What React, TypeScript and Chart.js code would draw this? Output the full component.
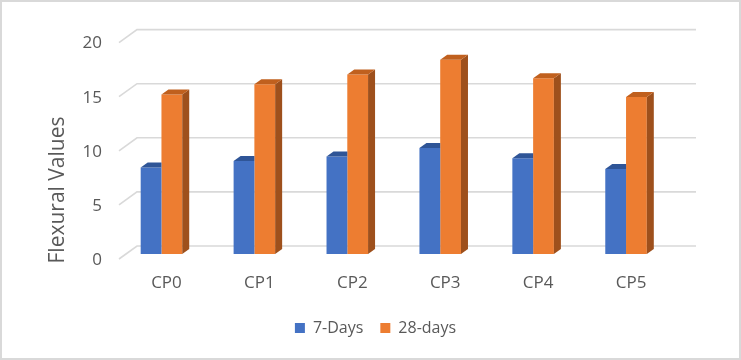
import React, { useEffect, useRef } from "react";
import { Chart, registerables } from "chart.js";

Chart.register(...registerables);

// ---- data ----
const categories = ["CP0", "CP1", "CP2", "CP3", "CP4", "CP5"];
const sevenDays = [8.0, 8.6, 9.0, 9.8, 8.85, 7.85];
const twentyEightDays = [14.75, 15.7, 16.6, 17.95, 16.25, 14.5];
const seriesNames = ["7-Days", "28-days"];
const yTickValues = [0, 5, 10, 15, 20];
const yAxisTitle = "Flexural Values";

// ---- styles ----
const FONT = "'Open Sans', 'Noto Sans', sans-serif";
const TEXT = "#595959";
const GRID = "#d9d9d9";
const FRONT = ["#4472C4", "#ED7D31"];
const TOP = ["#2F5597", "#C0601E"];
const SIDE = ["#2F5597", "#9E501C"];
const DEPTH_X = 7;
const DEPTH_Y = 5;

const threeDPlugin = {
  id: "threeD",
  beforeDraw(chart: any) {
    const { ctx, width, height } = chart;
    ctx.save();
    ctx.fillStyle = "#ffffff";
    ctx.fillRect(0, 0, width, height);
    ctx.strokeStyle = GRID;
    ctx.lineWidth = 2;
    ctx.strokeRect(1, 1, width - 2, height - 2);
    ctx.restore();
  },
  beforeDatasetsDraw(chart: any) {
    const { ctx, chartArea, scales } = chart;
    const y = scales.y;
    ctx.save();
    ctx.strokeStyle = GRID;
    ctx.lineWidth = 1.6;
    y.ticks.forEach((t: any) => {
      const py = y.getPixelForValue(t.value);
      ctx.beginPath();
      ctx.moveTo(chartArea.left + 4, py + 5);
      ctx.lineTo(chartArea.left + 22, py - 8);
      ctx.lineTo(chartArea.right + 23.5, py - 8);
      ctx.stroke();
    });
    ctx.restore();
  },
  afterDatasetsDraw(chart: any) {
    const ctx = chart.ctx;
    const n = chart.data.datasets.length;
    ctx.save();
    for (let d = 0; d < n; d++) {
      const meta = chart.getDatasetMeta(d);
      const last = d === n - 1;
      meta.data.forEach((bar: any) => {
        const { x, y, base, width } = bar.getProps(["x", "y", "base", "width"], true);
        const L = x - width / 2;
        const R = x + width / 2;
        if (last) {
          // side face
          ctx.fillStyle = SIDE[d];
          ctx.beginPath();
          ctx.moveTo(R, y);
          ctx.lineTo(R + DEPTH_X, y - DEPTH_Y);
          ctx.lineTo(R + DEPTH_X, base - DEPTH_Y);
          ctx.lineTo(R, base);
          ctx.closePath();
          ctx.fill();
          // top face
          ctx.fillStyle = TOP[d];
          ctx.beginPath();
          ctx.moveTo(L, y);
          ctx.lineTo(L + DEPTH_X, y - DEPTH_Y);
          ctx.lineTo(R + DEPTH_X, y - DEPTH_Y);
          ctx.lineTo(R, y);
          ctx.closePath();
          ctx.fill();
        } else {
          // top face, hidden on the right by the next (taller) bar
          ctx.fillStyle = TOP[d];
          ctx.beginPath();
          ctx.moveTo(L, y);
          ctx.lineTo(L + DEPTH_X, y - DEPTH_Y);
          ctx.lineTo(R, y - DEPTH_Y);
          ctx.lineTo(R, y);
          ctx.closePath();
          ctx.fill();
        }
      });
    }
    ctx.restore();
  },
  afterDraw(chart: any) {
    const ctx = chart.ctx;
    ctx.save();
    ctx.translate(63.5, 190);
    ctx.rotate(-Math.PI / 2);
    ctx.font = `21px ${FONT}`;
    ctx.fillStyle = TEXT;
    ctx.textAlign = "center";
    ctx.textBaseline = "alphabetic";
    ctx.fillText(yAxisTitle, 0, 0);
    ctx.restore();
  },
};

export default function App() {
  const ref = useRef<HTMLCanvasElement | null>(null);

  useEffect(() => {
    if (!ref.current) return;
    const chart = new Chart(ref.current, {
      type: "bar",
      data: {
        labels: categories,
        datasets: [
          {
            label: seriesNames[0],
            data: sevenDays,
            backgroundColor: FRONT[0],
            borderColor: FRONT[0],
            borderWidth: 0,
            categoryPercentage: 0.447,
            barPercentage: 1,
          },
          {
            label: seriesNames[1],
            data: twentyEightDays,
            backgroundColor: FRONT[1],
            borderColor: FRONT[1],
            borderWidth: 0,
            categoryPercentage: 0.447,
            barPercentage: 1,
          },
        ],
      },
      options: {
        responsive: false,
        animation: false,
        devicePixelRatio: 1,
        events: [],
        layout: { padding: { top: 37.6, left: 10, right: 0, bottom: 14 } },
        plugins: {
          tooltip: { enabled: false },
          legend: {
            position: "bottom",
            labels: {
              boxWidth: 10,
              boxHeight: 10,
              padding: 17,
              color: TEXT,
              font: { family: FONT, size: 16 },
            },
          },
        },
        scales: {
          x: {
            grid: { display: false, drawTicks: false },
            border: { display: false },
            ticks: {
              color: TEXT,
              font: { family: FONT, size: 17 },
              padding: 19,
              labelOffset: 5,
              maxRotation: 0,
            },
            afterFit: (s: any) => {
              s.height = 49;
            },
          },
          y: {
            min: 0,
            max: 20,
            grid: { display: false, drawTicks: false },
            border: { display: false },
            ticks: {
              color: TEXT,
              font: { family: FONT, size: 17 },
              padding: 13,
              labelOffset: 6,
            },
            afterBuildTicks: (s: any) => {
              s.ticks = yTickValues.map((v) => ({ value: v }));
            },
            afterFit: (s: any) => {
              s.width = 105;
            },
          },
          yRight: {
            position: "right",
            display: true,
            grid: { display: false, drawTicks: false },
            border: { display: false },
            ticks: { display: false },
            afterFit: (s: any) => {
              s.width = 68.5;
            },
          },
        },
      },
      plugins: [threeDPlugin],
    } as any);
    return () => chart.destroy();
  }, []);

  return (
    <div style={{ position: "absolute", left: 0, top: 0, width: 741, height: 360 }}>
      <canvas ref={ref} width={741} height={360} style={{ display: "block" }} />
    </div>
  );
}
